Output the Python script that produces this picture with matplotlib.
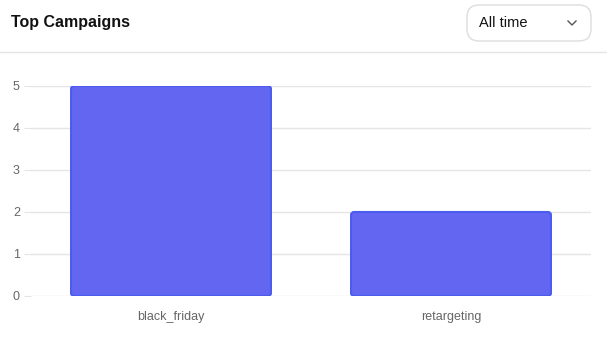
import matplotlib
matplotlib.use("Agg")
import matplotlib.pyplot as plt
from matplotlib.patches import FancyBboxPatch
from matplotlib.lines import Line2D

campaigns = ["black_friday", "retargeting"]
counts = [5, 2]
y_ticks = [0, 1, 2, 3, 4, 5]

TITLE = "Top Campaigns"
DROPDOWN = "All time"

BAR_FILL = "#6366f1"
BAR_EDGE = "#4b5cef"
GRID_COL = "#e5e5e5"
TICK_COL = "#666666"

W, H = 607, 342
fig = plt.figure(figsize=(W / 100, H / 100), dpi=100)
fig.patch.set_facecolor("white")

# header: title, dropdown, separator
fig.text(11 / W, 1 - 22 / H, TITLE, fontsize=11.5, fontweight="bold",
         color="#111111", ha="left", va="center", family="Liberation Sans")
box = FancyBboxPatch((467 / W, 1 - 41 / H), 124 / W, 36 / H,
                     boxstyle="round,pad=0,rounding_size=0.02",
                     transform=fig.transFigure, facecolor="white",
                     edgecolor="#dddddd", linewidth=1.0,
                     mutation_aspect=W / H)
fig.patches.append(box)
fig.text(479 / W, 1 - 23 / H, DROPDOWN, fontsize=10.5, color="#111111",
         ha="left", va="center", family="Liberation Sans")
fig.lines.append(Line2D([568 / W, 572 / W, 576 / W],
                        [1 - 21 / H, 1 - 25 / H, 1 - 21 / H],
                        transform=fig.transFigure, color="#555555", linewidth=1.0))
fig.lines.append(Line2D([0, 1], [1 - 51.5 / H, 1 - 51.5 / H],
                        transform=fig.transFigure, color=GRID_COL, linewidth=1.0))

# chart area (pixel box)
left, right, top, bottom = 31, 591, 86, 296
ax = fig.add_axes([left / W, 1 - bottom / H, (right - left) / W, (bottom - top) / H])
ax.set_xlim(-0.5, len(campaigns) - 0.5)
ax.set_ylim(0, max(y_ticks))

# px per data unit, so the corner radius stays round
px_x = (right - left) / len(campaigns)
px_y = (bottom - top) / max(y_ticks)
bar_w = 0.714
for i, v in enumerate(counts):
    ax.add_patch(FancyBboxPatch((i - bar_w / 2, 0), bar_w, v,
                                boxstyle=f"round,pad=0,rounding_size={3 / px_x}",
                                mutation_aspect=px_x / px_y,
                                facecolor=BAR_FILL, edgecolor=BAR_EDGE,
                                linewidth=1.5, zorder=3))

ax.set_yticks(y_ticks)
ax.set_xticks(range(len(campaigns)))
ax.set_xticklabels(campaigns)
ax.grid(True, axis="y", color=GRID_COL, linewidth=1.0, zorder=0)
ax.tick_params(axis="y", length=5, color=GRID_COL, labelsize=9,
               labelcolor=TICK_COL, pad=3)
ax.tick_params(axis="x", length=0, labelsize=9, labelcolor=TICK_COL, pad=11)
for s in ax.spines.values():
    s.set_visible(False)
for lab in ax.get_xticklabels() + ax.get_yticklabels():
    lab.set_family("Liberation Sans")

fig.savefig("out.png", dpi=100)
